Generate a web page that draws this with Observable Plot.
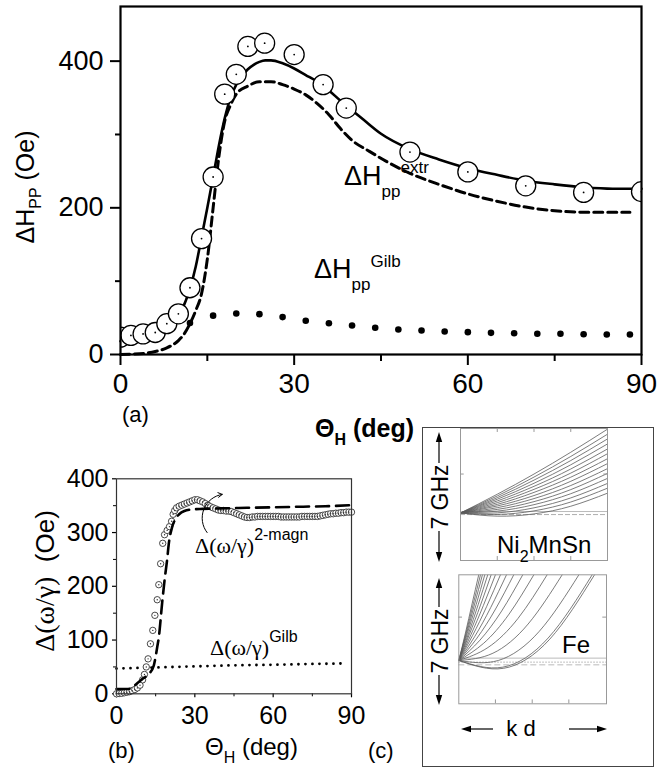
<!DOCTYPE html>
<html><head><meta charset="utf-8">
<script src="https://cdn.jsdelivr.net/npm/d3@7"></script>
<script src="https://cdn.jsdelivr.net/npm/@observablehq/plot@0.6"></script>
<style>
body{margin:0;background:#fff;}
#fig{position:relative;width:657px;height:769px;overflow:hidden;background:#fff;}
</style></head><body><div id="fig"></div>
<script>
// ---------------- Panel (a) data ----------------
const aMeasTheta = [0, 1.8, 3.9, 6, 8, 10, 12, 14, 16, 18, 20, 22, 24.9, 30, 35, 39, 50, 60, 70, 80, 90];
const aMeasDH    = [23.6, 26, 28, 30, 42, 55.5, 91, 158, 242, 355, 382, 420, 424.5, 409, 368, 336, 276, 249, 230, 221, 222];
const aFitTheta = [0,2,4,6,8,10, 11,12,13,14,15,16,17,18,19,20, 21,22,23,24,25,26, 28,30,32,34,36,38,40,42, 45,50,55,60,65,70,75,80,85,90];
const aFitDH    = [18,20,23,28,38,55, 68,90,120,160,200,242,285,322,350,368, 380,389,395,399,401,401, 397,390,381,372,360,346,333,320, 301,280,266,254,245,237,232,228,226,226];
const aExtrTheta = [0,2,4,6,8,10, 11,12,13,14,15,16,17,18,19,20, 22,24,26,28,30,32,34,36,38,40, 43,46,50,55,60,65,70,75,80,85,88];
const aExtrDH    = [0,0.5,1.5,4,9,19, 28,42,60,83,130,200,270,318,340,355, 366,372,372,368,362,354,342,327,308,292, 277,263,247,232,219,209,201,196,194,194,194];
const aGilbTheta = [12,16,20,24,28,32,36,40,44,48,52,56,60,64,68,72,76,80,84,88];
const aGilbDH    = [43,53,56,55,51,46,42.7,39.5,36.4,34,32.7,31.4,30.5,29.5,29,28.2,28.2,27.7,27.3,27.3];
const aMajorX = [0, 30, 60, 90], aMinorX = [15, 45, 75];
const aMajorY = [0, 200, 400],   aMinorY = [100, 300];

// ---------------- Panel (b) data ----------------
const bMeasTheta = [0,1,2,3,4,5,6,7,8,9,10,
  10.7,11.4,12.1,13,13.9,14.7,15.6,16.2,16.9,17.7,18.4,19.4,20.3,21.1,21.7,22.3,
  23,24,25,26,27,28,29,30,31,32,
  33,34,35,36,37,38,39,40,41,42,
  43,44,45,46,47,48,49,50,51,52,
  53,54,55,56,57,58,59,60,61,62,
  63,64,65,66,67,68,69,70,71,72,
  73,74,75,76,77,78,79,80,81,82,
  83,84,85,86,87,88,89,90];
const bMeasDW = [0,0.5,1,2,3,4,6,8,11,16,26,
  36,50,65,93,118,146,175,203,242,280,296,304,311,321,334,341,
  346,349,351,353,355,357,359,361,361,359,
  357,354,351,348,346,344,342,341,341,340,
  340,339,337,335,333,331,329,328,328,329,
  329,330,330,330,330,330,330,330,330,330,
  329,329,329,329,329,329,329,329,330,330,
  330,330,330,330,330,331,332,333,334,335,
  335,336,336,337,337,338,338,338];
const bModelTheta = [0,4.5,8.5,10,12.4,14.3,15.6,16.2,17.5,18.4,19.4,20,21.3,22.5,24,26,29,33,40,50,60,70,80,90];
const bModelDW    = [9,9,22,28,37,53,87,105,170,211,250,278,310,325,334,340,343,344,345,346,347,348,349,351];
const bGilbTheta = [0,15,30,45,60,75,88];
const bGilbDW    = [47,49,51,53,54,55.5,56.5];
const bArrow = [{x1: 34.7, y1: 300, x2: 40.5, y2: 371}];
const bMajorX = [0, 30, 60, 90], bMinorX = [15, 45, 75];
const bMajorY = [0, 100, 200, 300, 400], bMinorY = [50, 150, 250, 350];

// ---------------- Panel (c) data (arbitrary units 0..1) ----------------
const niKd = [0, 0.25, 0.5, 0.75, 1];
const niBranches = [
  [0.36,0.502,0.655,0.820,0.995],
  [0.36,0.489,0.632,0.788,0.957],
  [0.36,0.476,0.609,0.757,0.921],
  [0.36,0.464,0.585,0.725,0.883],
  [0.36,0.451,0.562,0.693,0.845],
  [0.36,0.438,0.539,0.662,0.809],
  [0.36,0.425,0.516,0.631,0.771],
  [0.36,0.413,0.492,0.600,0.734],
  [0.36,0.400,0.469,0.568,0.696],
  [0.36,0.387,0.446,0.537,0.660],
  [0.36,0.374,0.423,0.506,0.622],
  [0.36,0.361,0.399,0.474,0.584],
  [0.36,0.349,0.376,0.443,0.548],
  [0.36,0.336,0.353,0.411,0.510]
];
const niRefLevels = [0.371, 0.348];
const niTicksX = [0.25, 0.5, 0.75], niTicksY = [0.655];

const feBranchKd = [
  [0,0.045,0.090,0.135],[0,0.049,0.098,0.147],[0,0.053,0.107,0.160],[0,0.058,0.118,0.176],
  [0,0.065,0.131,0.196],[0,0.072,0.147,0.219],[0,0.082,0.166,0.248],[0,0.093,0.189,0.282],
  [0,0.107,0.216,0.323],[0,0.123,0.249,0.372],[0,0.143,0.290,0.433],[0,0.168,0.340,0.508],
  [0,0.197,0.401,0.598],[0,0.231,0.469,0.700],[0,0.268,0.545,0.813],[0,0.298,0.605,0.903],
  [0,0.303,0.616,0.919]
];
const feBranchF = [
  [0.336,0.549,0.775,1],[0.336,0.548,0.774,1],[0.336,0.547,0.773,1],[0.336,0.545,0.771,1],
  [0.336,0.542,0.768,1],[0.336,0.539,0.765,1],[0.336,0.535,0.761,1],[0.336,0.529,0.755,1],
  [0.336,0.520,0.746,1],[0.336,0.509,0.735,1],[0.336,0.493,0.719,1],[0.336,0.469,0.695,1],
  [0.336,0.436,0.662,1],[0.336,0.392,0.618,1],[0.336,0.336,0.562,1],[0.336,0.284,0.510,1],
  [0.336,0.275,0.501,1]
];
const feRefLevels = [0.354, 0.323, 0.302];
const feTicksX = [0.248, 0.497, 0.745], feTicksY = [0.672];

// ---------------- helpers ----------------
const SANS = '"Liberation Sans", Arial, Helvetica, sans-serif';
const SERIF = '"Liberation Serif", "Times New Roman", serif';
const fig = document.getElementById("fig");
function place(el, left, top) {
  el.style.position = "absolute"; el.style.left = left + "px"; el.style.top = top + "px";
  el.style.maxWidth = "none"; el.style.overflow = "visible"; el.style.background = "transparent";
  fig.appendChild(el);
}
const rows = (xs, ys) => xs.map((x, i) => ({x, y: ys[i]}));

// ---------------- Panel (a) ----------------
const plotA = Plot.plot({
  width: 657, height: 400,
  marginLeft: 120, marginRight: 16, marginTop: 6, marginBottom: 46,
  x: {domain: [0, 90], label: null},
  y: {domain: [0, 474.5], label: null},
  style: {fontFamily: SANS, color: "#000"},
  marks: [
    Plot.axisX(aMajorX, {tickSize: 11, tickPadding: 8, fontSize: 28, strokeWidth: 2, label: null}),
    Plot.axisX(aMinorX, {tickSize: 7, strokeWidth: 2, tickFormat: () => "", label: null}),
    Plot.axisY(aMajorY, {tickSize: 10, tickPadding: 7, fontSize: 27, strokeWidth: 2, label: null}),
    Plot.axisY(aMinorY, {tickSize: 5, strokeWidth: 2, tickFormat: () => "", label: null}),
    Plot.line(rows(aExtrTheta, aExtrDH), {x: "x", y: "y", strokeWidth: 3, strokeDasharray: "9,5", curve: "monotone-x"}),
    Plot.line(rows(aFitTheta, aFitDH), {x: "x", y: "y", strokeWidth: 2.6, curve: "monotone-x"}),
    Plot.dot(rows(aGilbTheta, aGilbDH), {x: "x", y: "y", r: 3.3, fill: "black"}),
    Plot.dot(rows(aMeasTheta, aMeasDH), {x: "x", y: "y", r: 10, fill: "white", stroke: "black", strokeWidth: 1.3, clip: true}),
    Plot.dot(rows(aMeasTheta, aMeasDH), {x: "x", y: "y", r: 0.9, fill: "black", clip: true}),
    Plot.frame({strokeWidth: 2.2})
  ]
});
place(plotA, 0, 0);

// ---------------- Panel (b) ----------------
const plotB = Plot.plot({
  width: 420, height: 300,
  marginLeft: 116, marginRight: 69, marginTop: 38.3, marginBottom: 46.7,
  x: {domain: [0, 90], label: null},
  y: {domain: [0, 400], label: null},
  style: {fontFamily: SANS, color: "#000"},
  marks: [
    Plot.axisX(bMajorX, {tickSize: 4, tickPadding: 8, fontSize: 25, strokeWidth: 1.2, label: null}),
    Plot.axisX(bMinorX, {tickSize: 3, strokeWidth: 1, tickFormat: () => "", label: null}),
    Plot.axisY(bMajorY, {tickSize: 4, tickPadding: 4, fontSize: 25, strokeWidth: 1.2, label: null}),
    Plot.axisY(bMinorY, {tickSize: 3, strokeWidth: 1, tickFormat: () => "", label: null}),
    Plot.line(rows(bGilbTheta, bGilbDW), {x: "x", y: "y", strokeWidth: 2.8, strokeDasharray: "0,7", strokeLinecap: "round"}),
    Plot.dot(rows(bMeasTheta, bMeasDW), {x: "x", y: "y", r: 3.2, fill: "white", stroke: "#333", strokeWidth: 0.9}),
    Plot.dot(rows(bMeasTheta, bMeasDW), {x: "x", y: "y", r: 0.7, fill: "#333"}),
    Plot.line(rows(bModelTheta, bModelDW), {x: "x", y: "y", strokeWidth: 2.6, strokeDasharray: "13,7", curve: "monotone-x"}),
    Plot.arrow(bArrow, {x1: "x1", y1: "y1", x2: "x2", y2: "y2", bend: 60, strokeWidth: 1, headLength: 7}),
    Plot.frame({stroke: "#333", strokeWidth: 1.2})
  ]
});
place(plotB, 0, 440);

// ---------------- Panel (c) ----------------
const plotCbox = Plot.plot({
  width: 231, height: 339, margin: 0,
  x: {domain: [0, 1], axis: null}, y: {domain: [0, 1], axis: null},
  marks: [Plot.frame({stroke: "#444", strokeWidth: 1})]
});
place(plotCbox, 422, 427);

const niRows = niBranches.flatMap((b, k) => b.map((f, i) => ({k, x: niKd[i], y: f})));
const plotCtop = Plot.plot({
  width: 231, height: 143, marginLeft: 38, marginRight: 46, marginTop: 1, marginBottom: 10,
  x: {domain: [0, 1], axis: null}, y: {domain: [0, 1], axis: null},
  marks: [
    Plot.ruleY([niRefLevels[0]], {stroke: "#aaa", strokeWidth: 0.8}),
    Plot.ruleY([niRefLevels[1]], {stroke: "#999", strokeWidth: 0.8, strokeDasharray: "5,2"}),
    Plot.line(niRows, {x: "x", y: "y", z: "k", stroke: "#5a5a5a", strokeWidth: 0.8, curve: "natural", clip: true}),
    Plot.ruleX(niTicksX, {y1: 0, y2: 0.03, stroke: "#999"}),
    Plot.ruleX(niTicksX, {y1: 0.97, y2: 1, stroke: "#999"}),
    Plot.ruleY(niTicksY, {x1: 0, x2: 0.025, stroke: "#999"}),
    Plot.ruleY(niTicksY, {x1: 0.975, x2: 1, stroke: "#999"}),
    Plot.frame({stroke: "#999", strokeWidth: 1})
  ]
});
place(plotCtop, 422, 427);

const feRows = feBranchKd.flatMap((b, k) => b.map((x, i) => ({k, x, y: feBranchF[k][i]})));
const plotCbot = Plot.plot({
  width: 231, height: 145, marginLeft: 36.3, marginRight: 47, marginTop: 9.3, marginBottom: 6.7,
  x: {domain: [0, 1], axis: null}, y: {domain: [0, 1], axis: null},
  marks: [
    Plot.ruleY([feRefLevels[0]], {stroke: "#aaa", strokeWidth: 0.8}),
    Plot.ruleY([feRefLevels[1]], {stroke: "#999", strokeWidth: 0.8, strokeDasharray: "1.5,1.5"}),
    Plot.ruleY([feRefLevels[2]], {stroke: "#aaa", strokeWidth: 0.8, strokeDasharray: "6,3"}),
    Plot.line(feRows, {x: "x", y: "y", z: "k", stroke: "#5a5a5a", strokeWidth: 0.8, curve: "natural", clip: true}),
    Plot.ruleX(feTicksX, {y1: 0, y2: 0.03, stroke: "#999"}),
    Plot.ruleY(feTicksY, {x1: 0, x2: 0.025, stroke: "#999"}),
    Plot.ruleY(feTicksY, {x1: 0.975, x2: 1, stroke: "#999"}),
    Plot.frame({stroke: "#999", strokeWidth: 1})
  ]
});
place(plotCbot, 422, 565);

// ---------------- Text labels & annotation arrows ----------------
const ov = d3.select("#fig").append("svg")
  .attr("width", 657).attr("height", 769)
  .style("position", "absolute").style("left", "0px").style("top", "0px").style("overflow", "visible");
function label(x, y, parts, {rotate = 0, anchor = "start", weight = "normal"} = {}) {
  const t = ov.append("text").attr("x", x).attr("y", y)
    .attr("text-anchor", anchor).attr("font-weight", weight)
    .style("white-space", "pre").attr("fill", "#000");
  if (rotate) t.attr("transform", `rotate(${rotate},${x},${y})`);
  for (const p of parts) {
    t.append("tspan").attr("font-family", p.f || SANS).attr("font-size", p.s)
      .attr("font-weight", p.w || null).attr("dy", p.dy || 0).text(p.t);
  }
}
function arrow(x1, y1, x2, y2) {
  const a = Math.atan2(y2 - y1, x2 - x1), L = 10, W = 3.2;
  const bx = x2 - L * Math.cos(a), by = y2 - L * Math.sin(a);
  ov.append("line").attr("x1", x1).attr("y1", y1).attr("x2", bx).attr("y2", by).attr("stroke", "#000").attr("stroke-width", 1.2);
  ov.append("path").attr("d", `M${x2},${y2}L${bx - W * Math.sin(a)},${by + W * Math.cos(a)}L${bx + W * Math.sin(a)},${by - W * Math.cos(a)}Z`).attr("fill", "#000");
}

// (a)
label(34, 187, [{t: "ΔH", s: 25}, {t: "PP", s: 16, dy: 7}, {t: " (Oe)", s: 25, dy: -7}], {rotate: -90, anchor: "middle"});
label(344, 185, [{t: "ΔH", s: 27}, {t: "pp", s: 17, dy: 12}, {t: "extr", s: 17, dy: -24}]);
label(314, 278, [{t: "ΔH", s: 27}, {t: "pp", s: 17, dy: 12}, {t: "Gilb", s: 17, dy: -23}]);
label(122, 422, [{t: "(a)", s: 22}]);
label(315, 437, [{t: "Θ", s: 25}, {t: "H", s: 16, dy: 8}, {t: " (deg)", s: 25, dy: -8}], {weight: "bold"});

// (b)
label(54, 581, [{t: "Δ(ω/γ)", s: 28, f: SERIF}, {t: "  (Oe)", s: 26}], {rotate: -90, anchor: "middle"});
label(195, 553, [{t: "Δ(ω/γ)", s: 22, f: SERIF}, {t: "2-magn", s: 16, dy: -13}]);
label(210, 655, [{t: "Δ(ω/γ)", s: 22, f: SERIF}, {t: "Gilb", s: 16, dy: -13}]);
label(205, 755, [{t: "Θ", s: 24}, {t: "H", s: 16, dy: 8}, {t: " (deg)", s: 24, dy: -8}]);
label(108, 758, [{t: "(b)", s: 22}]);
label(368, 758, [{t: "(c)", s: 22}]);

// (c)
label(497, 553, [{t: "Ni", s: 24}, {t: "2", s: 16, dy: 9}, {t: "MnSn", s: 24, dy: -9}]);
label(562, 653, [{t: "Fe", s: 24}]);
label(448, 497, [{t: "7 GHz", s: 23}], {rotate: -90, anchor: "middle"});
label(448, 641, [{t: "7 GHz", s: 23}], {rotate: -90, anchor: "middle"});
arrow(439, 463, 439, 432);
arrow(439, 531, 439, 562);
arrow(439, 607, 439, 578);
arrow(439, 675, 439, 705);
label(521, 736, [{t: "k d", s: 22}], {anchor: "middle"});
arrow(493, 729, 461, 729);
arrow(569, 729, 607, 729);
</script>
</body></html>
